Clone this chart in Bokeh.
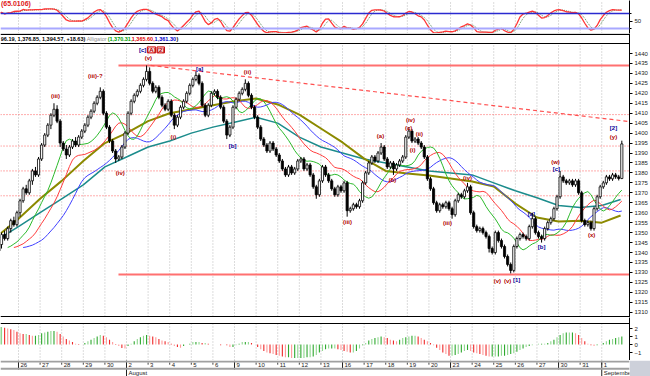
import numpy as np
import pandas as pd
from bokeh.plotting import figure
from bokeh.layouts import column
from bokeh.models import Range1d, FixedTicker, Span, Label, ColumnDataSource
from bokeh.core.properties import value
from bokeh.embed import file_html
from bokeh.resources import INLINE

FONT = "Liberation Sans"

# ---------------- data ----------------
# hourly bars, 7 per trading day, first row = Jul 23 (partly visible)
first_open = 1341
closes = [
    1344, 1349, 1347, 1352, 1356, 1354, 1360,   # Jul 23
    1366, 1372, 1370, 1376, 1381, 1379, 1387,   # Jul 26
    1394, 1399, 1404, 1409, 1412, 1406, 1395,   # Jul 27
    1392, 1389, 1393, 1396, 1394, 1398, 1401,   # Jul 28
    1404, 1408, 1411, 1415, 1418, 1421, 1410,   # Jul 29
    1403, 1396, 1391, 1387, 1388, 1393, 1400,   # Jul 30
    1410, 1416, 1419, 1421, 1424, 1427, 1431,   # Aug 2
    1425, 1421, 1423, 1418, 1414, 1412, 1416,   # Aug 3
    1409, 1404, 1408, 1413, 1416, 1420, 1424,   # Aug 4
    1427, 1429, 1425, 1414, 1409, 1414, 1420,   # Aug 5
    1421, 1418, 1413, 1406, 1399, 1403, 1413,   # Aug 6
    1417, 1420, 1422, 1425, 1419, 1413, 1408,   # Aug 9
    1403, 1397, 1394, 1391, 1395, 1392, 1389,   # Aug 10
    1386, 1382, 1379, 1383, 1380, 1382, 1386,   # Aug 11
    1387, 1382, 1384, 1379, 1373, 1369, 1376,   # Aug 12
    1383, 1379, 1376, 1372, 1369, 1373, 1371,   # Aug 13
    1375, 1361, 1362, 1364, 1363, 1366, 1375,   # Aug 16
    1380, 1385, 1388, 1386, 1390, 1393, 1387,   # Aug 17
    1383, 1385, 1382, 1384, 1386, 1388, 1398,   # Aug 18
    1401, 1396, 1397, 1395, 1393, 1388, 1377,   # Aug 19
    1372, 1365, 1361, 1364, 1363, 1365, 1362,   # Aug 20
    1359, 1366, 1369, 1368, 1371, 1373, 1360,   # Aug 23
    1353, 1351, 1352, 1350, 1348, 1342, 1340,   # Aug 24
    1350, 1346, 1343, 1338, 1334, 1331, 1343,   # Aug 25
    1347, 1349, 1348, 1347, 1353, 1357, 1350,   # Aug 26
    1348, 1347, 1352, 1355, 1357, 1362, 1368,   # Aug 27
    1378, 1376, 1375, 1376, 1374, 1376, 1370,   # Aug 30
    1356, 1354, 1355, 1352, 1362, 1368, 1373,   # Aug 31
    1375, 1378, 1377, 1379, 1378, 1377.2, 1394.57,  # Sep 1
]
upper_wick = [
    1, 1, 2, 1, 1, 2, 1,
    1, 1, 2, 1, 1, 2, 1,
    1, 1, 1, 1, 3, 2, 1,
    1, 2, 1, 1, 2, 1, 1,
    1, 1, 1, 1, 1, 2, 1,
    1, 1, 1, 1, 1, 1, 1,
    1, 1, 1, 1, 1, 1, 3,
    2, 1, 1, 1, 1, 1, 1,
    1, 1, 1, 1, 1, 1, 1,
    1, 2, 1, 1, 1, 1, 1,
    1, 1, 1, 1, 1, 1, 1,
    1, 1, 1, 2, 1, 1, 1,
    1, 1, 1, 1, 1, 1, 1,
    1, 1, 1, 1, 1, 1, 1,
    1, 1, 1, 1, 1, 1, 1,
    1, 1, 1, 1, 1, 1, 1,
    1, 1, 1, 1, 1, 1, 1,
    1, 1, 1, 1, 1, 2, 1,
    1, 1, 1, 1, 1, 1, 1,
    2, 1, 1, 1, 1, 1, 1,
    1, 1, 1, 1, 1, 1, 1,
    1, 1, 1, 1, 1, 2, 1,
    1, 1, 1, 1, 1, 1, 1,
    1, 1, 1, 1, 1, 1, 1,
    1, 1, 1, 1, 1, 3, 1,
    1, 1, 1, 1, 1, 1, 1,
    3, 1, 1, 1, 1, 1, 1,
    1, 1, 1, 1, 1, 1, 1,
    1, 1, 1, 1, 1, 1, 1.62,
]
lower_wick = [
    1, 2, 1, 1, 2, 1, 1,
    2, 1, 1, 1, 2, 1, 1,
    1, 1, 1, 2, 1, 1, 2,
    1, 2, 1, 1, 1, 1, 1,
    1, 1, 1, 1, 1, 1, 1,
    1, 1, 1, 2, 1, 1, 1,
    1, 1, 1, 1, 1, 1, 1,
    1, 1, 1, 1, 1, 1, 1,
    1, 2, 1, 1, 1, 1, 1,
    1, 1, 1, 1, 1, 1, 1,
    1, 1, 1, 1, 2, 1, 1,
    1, 1, 1, 1, 1, 1, 1,
    1, 1, 1, 1, 1, 1, 1,
    1, 1, 1, 1, 1, 1, 1,
    1, 1, 1, 1, 1, 2, 1,
    1, 1, 1, 1, 1, 1, 1,
    1, 3, 1, 1, 1, 1, 1,
    1, 1, 1, 1, 1, 1, 1,
    1, 1, 3, 1, 1, 1, 1,
    1, 1, 1, 1, 1, 1, 1,
    1, 1, 1, 1, 1, 1, 1,
    2, 1, 1, 1, 1, 1, 1,
    1, 1, 1, 1, 1, 2, 1,
    1, 1, 1, 1, 1, 1.5, 1,
    1, 1, 1, 1, 1, 1, 1,
    1, 2, 1, 1, 1, 1, 1,
    1, 1, 1, 1, 1, 1, 1,
    1, 1, 1, 1, 1, 1, 1,
    1, 1, 1, 1, 1, 1, 0.35,
]
histogram = [
    2.2, 2.2, 2.1, 2.0, 1.9, 1.8, 1.6,
    1.4, 1.3, 1.3, 1.2, 1.1, 1.1, 1.2,
    1.4, 1.5, 1.6, 1.7, 1.7, 1.6, 1.3,
    1.0, 0.7, 0.5, 0.3, 0.1, 0.05, 0.0,
    0.2, 0.4, 0.6, 0.8, 1.0, 1.2, 1.1,
    0.9, 0.6, 0.3, 0.05, -0.2, -0.45, -0.5,
    -0.2, 0.1, 0.4, 0.7, 0.9, 1.1, 1.2,
    1.1, 1.0, 0.9, 0.7, 0.5, 0.4, 0.3,
    0.1, -0.2, -0.3, -0.4, -0.2, 0.0, 0.1,
    0.3, 0.3, 0.3, 0.2, 0.2, 0.1, 0.0,
    0.0, 0.0, -0.1, 0.0, -0.1, -0.3, -0.3,
    -0.1, 0.1, 0.3, 0.3, 0.3, 0.2, 0.0,
    -0.3, -0.6, -0.8, -1.0, -1.1, -1.2, -1.3,
    -1.4, -1.5, -1.6, -1.6, -1.7, -1.7, -1.7,
    -1.7, -1.7, -1.6, -1.6, -1.5, -1.3, -1.0,
    -0.8, -0.6, -0.5, -0.5, -0.5, -0.6, -0.7,
    -0.8, -0.9, -1.0, -1.0, -0.8, -0.5, -0.1,
    0.2, 0.5, 0.7, 0.8, 0.9, 1.0, 0.9,
    0.8, 0.6, 0.5, 0.4, 0.6, 0.8, 0.9,
    1.0, 1.1, 1.1, 1.0, 0.8, 0.6, 0.4,
    0.2, -0.1, -0.4, -0.7, -1.0, -1.2, -1.4,
    -1.4, -1.3, -1.2, -1.0, -0.8, -0.7, -0.8,
    -1.0, -1.1, -1.2, -1.3, -1.4, -1.5, -1.5,
    -1.5, -1.5, -1.4, -1.4, -1.3, -1.2, -1.1,
    -0.9, -0.7, -0.5, -0.3, -0.2, -0.1, 0.0,
    0.1, 0.1, 0.1, 0.2, 0.4, 0.6, 0.9,
    1.2, 1.4, 1.5, 1.5, 1.5, 1.4, 1.2,
    0.8, 0.4, 0.1, -0.1, -0.2, -0.1, 0.0,
    0.2, 0.4, 0.6, 0.7, 0.8, 0.9, 1.0,
]

# long moving averages read at each day boundary (bar-index position)
ma_x = [-6.3, -0.5, 6.5, 13.5, 20.5, 27.5, 34.5, 41.5, 48.5, 55.5, 62.5, 69.5, 76.5,
        83.5, 90.5, 97.5, 104.5, 111.5, 118.5, 125.5, 132.5, 139.5, 146.5, 153.5,
        160.5, 167.5, 174.5, 181.5, 188.5, 194.6]
teal_ma = [1347.5, 1353, 1360, 1367, 1374, 1383, 1388, 1393, 1396, 1400, 1403, 1405.5,
           1408, 1405, 1398, 1393, 1390, 1387, 1385, 1383, 1381, 1380, 1379, 1375,
           1371, 1367.5, 1363.6, 1362.6, 1363.6, 1366.6]
olive_ma = [1349.5, 1357, 1367, 1376, 1386, 1395, 1400, 1406, 1410, 1412, 1414, 1416,
            1417.4, 1414.4, 1409.3, 1402.3, 1395.3, 1387.2, 1381, 1379.7, 1378.7, 1377.2,
            1375.7, 1373.2, 1364.6, 1357.6, 1355.6, 1356, 1355, 1358.6]

# support / resistance levels
solid_levels = [1434, 1329]
solid_start = 31.9
dotted_levels = [1409.3, 1393.5, 1381, 1368.5]
trend_x = [42.3, 197.5]
trend_y = [1434, 1405.8]

# wave labels
red_text = ["(iii)", "(iii)-?", "(v)", "(iv)", "(i)", "(ii)", "(iii)", "(a)", "(b)", "(iv)",
            "(c)", "(ii)", "(i)", "(iii)", "(iv)", "(v)", "(v)", "(w)", "(x)", "(y)"]
red_x = [11.5, 24.4, 41.6, 32.5, 49.7, 73.7, 106.1, 116.8, 120.7, 126.5,
         125.9, 129.4, 127.2, 138.5, 145.0, 154.7, 158.0, 173.5, 185.2, 192.3]
red_y = [1418.4, 1428.9, 1437.5, 1380.2, 1397.8, 1430.5, 1355.1, 1398.3, 1376.2, 1406.8,
         1402.8, 1399.3, 1391.3, 1354.6, 1377.2, 1325.9, 1325.9, 1385.7, 1349.0, 1397.8]
blue_text = ["[c]", "[a]", "[b]", "[1]", "[a]", "[b]", "[c]", "[2]"]
blue_x = [39.7, 58.2, 68.9, 160.9, 165.7, 169.0, 173.8, 192.3]
blue_y = [1441.8, 1432.0, 1393.3, 1326.4, 1359.6, 1343.0, 1382.2, 1402.8]
boxed_text = ["(A)", "(2)"]
boxed_x = [42.6, 45.6]
boxed_y = [1441.8, 1441.8]

# date axis
day_labels = ["26", "27", "28", "29", "30", "2", "3", "4", "5", "6", "9", "10", "11", "12",
              "13", "16", "17", "18", "19", "20", "23", "24", "25", "26", "27", "30", "31", "1"]
week_start = [0, 5, 10, 15, 20, 25]
month_start = {5: "August", 27: "September"}

osc_title = "(65.0106)"
header_ohlc = "96.19, 1,376.85, 1,394.57, +18.63)"
header_name = "Alligator"
header_vals = ["(1,370.31,", "1,365.60,", "1,361.30", ")"]
icons = "\u22a1\u22a0"

# ---------------- derived ----------------
BPD = 7
n = len(closes)
xs = np.arange(-BPD, n - BPD)
opens = [first_open] + closes[:-1]
highs = [max(o, c) + u for o, c, u in zip(opens, closes, upper_wick)]
lows = [min(o, c) - d for o, c, d in zip(opens, closes, lower_wick)]
up = [c >= o for o, c in zip(opens, closes)]

H = pd.Series(highs)
L = pd.Series(lows)
C = pd.Series(closes, dtype=float)
med = (H + L) / 2
jaw = med.ewm(alpha=1 / 13, adjust=False).mean().shift(8)
teeth = med.ewm(alpha=1 / 8, adjust=False).mean().shift(5)
lips = med.ewm(alpha=1 / 5, adjust=False).mean().shift(3)

hh = H.rolling(14, min_periods=1).max()
ll = L.rolling(14, min_periods=1).min()
k_raw = (C - ll) / (hh - ll) * 100
k_slow = k_raw.rolling(3, min_periods=1).mean()
d_sig = k_slow.rolling(3, min_periods=1).mean()

bounds = [BPD * d - 0.5 for d in range(len(day_labels))]

xr = Range1d(-6.33, 197.49)
ICON_X = 200.4


def base(h, yr, yaxis=True, right=21):
    p = figure(frame_width=629, frame_height=h, x_range=xr, y_range=yr,
               toolbar_location=None, output_backend="svg",
               min_border_left=0, min_border_right=right, min_border_top=0, min_border_bottom=0,
               x_axis_location=None, y_axis_location="right" if yaxis else None)
    p.outline_line_color = None
    p.grid.visible = False
    p.background_fill_color = "white"
    p.border_fill_color = "white"
    if yaxis:
        ax = p.yaxis[0]
        ax.major_label_text_font = FONT
        ax.major_label_text_font_size = "6px"
        ax.major_label_text_color = "#222222"
        ax.major_tick_out = 3
        ax.major_tick_in = 0
        ax.minor_tick_out = 2
        ax.minor_tick_in = 0
        ax.major_label_standoff = 2
        ax.axis_line_color = "black"
        ax.axis_line_width = 1
    return p


def vgrid(p, y0, y1):
    p.segment(x0=bounds, x1=bounds, y0=y0, y1=y1, line_color="#b8b8b8",
              line_dash="1 2", line_width=1)


def icon(p, y):
    p.add_layout(Label(x=ICON_X, y=y, text=icons, text_font="DejaVu Sans", text_font_size="7px",
                       text_color="#333333", text_baseline="middle", text_align="left"))


# ---- oscillator panel ----
pA = base(33, Range1d(0, 132))
pA.yaxis[0].ticker = FixedTicker(ticks=[50], minor_ticks=[20, 80])
vgrid(pA, 0, 132)
pA.add_layout(Span(location=80, dimension="width", line_color="#2a2ad0", line_width=1.5))
pA.add_layout(Span(location=20, dimension="width", line_color="#a8a8ff", line_width=2))
pA.line(xs, d_sig, line_color="#5f8f5f", line_width=1, line_dash="1 1")
pA.line(xs, k_slow, line_color="#ff3535", line_width=1.3)
pA.add_layout(Label(x=-6.2, y=121, text=osc_title, text_font=FONT, text_font_size="7px",
                    text_font_style="bold", text_color="#e02020", text_baseline="middle"))
icon(pA, 112)

# ---- main price panel ----
pB = base(284, Range1d(1307.34, 1450.05))
pB.yaxis[0].ticker = FixedTicker(ticks=list(range(1310, 1445, 5)))
vgrid(pB, 1307.84, 1445.03)
pB.add_layout(Span(location=1449.6, dimension="width", line_color="black", line_width=1.2))
pB.add_layout(Span(location=1445.03, dimension="width", line_color="black", line_width=1.2))
pB.add_layout(Span(location=1307.84, dimension="width", line_color="black", line_width=1.2))

right_end = xr.end
for lv in dotted_levels:
    pB.segment(x0=[xr.start], x1=[right_end], y0=[lv], y1=[lv], line_color="#ff5a5a",
               line_dash="1 2", line_width=1)
pB.segment(x0=[solid_start] * 2, x1=[right_end] * 2, y0=solid_levels, y1=solid_levels,
           line_color="#ff7070", line_width=2)
pB.line(trend_x, trend_y, line_color="#ff5050", line_dash="4 3", line_width=1.2)

pB.line(ma_x, teal_ma, line_color="#1c8c8c", line_width=1.5)
pB.line(ma_x, olive_ma, line_color="#8c8a00", line_width=2)
pB.line(xs, jaw, line_color="#4040ff", line_width=1)
pB.line(xs, teeth, line_color="#ff3c3c", line_width=1)
pB.line(xs, lips, line_color="#2cba2c", line_width=1)

csrc = ColumnDataSource(dict(
    x=xs, top=[max(o, c) for o, c in zip(opens, closes)],
    bottom=[min(o, c) for o, c in zip(opens, closes)],
    high=highs, low=lows,
    fill=["white" if u_ else "black" for u_ in up]))
pB.segment(x0="x", x1="x", y0="low", y1="high", source=csrc, line_color="black", line_width=1)
pB.vbar(x="x", top="top", bottom="bottom", width=0.7, source=csrc, fill_color="fill",
        line_color="black", line_width=0.8)

pB.text(x=red_x, y=red_y, text=red_text, text_font=value(FONT), text_font_size=value("6px"),
        text_font_style="bold", text_color="#b00000", text_align="center", text_baseline="middle")
pB.text(x=blue_x, y=blue_y, text=blue_text, text_font=value(FONT), text_font_size=value("6px"),
        text_font_style="bold", text_color="#000099", text_align="center", text_baseline="middle")
for t, bx_, by_ in zip(boxed_text, boxed_x, boxed_y):
    pB.add_layout(Label(x=bx_, y=by_, text=t, text_font=FONT, text_font_size="6px",
                        text_font_style="bold", text_color="#b00000", text_align="center",
                        text_baseline="middle", border_line_color="#d00000",
                        background_fill_color="#ffe0e0"))

hy = 1447.4
pB.add_layout(Label(x=-6.25, y=hy, text=header_ohlc, text_font=FONT, text_font_size="5.5px",
                    text_font_style="bold", text_color="black", text_baseline="middle"))
pB.add_layout(Label(x=21.6, y=hy, text=header_name, text_font=FONT, text_font_size="5.5px",
                    text_color="#909090", text_baseline="middle"))
for t, hx, col in zip(header_vals, [28.4, 36.2, 43.6, 50.7],
                      ["#00a000", "#e00000", "#0000cc", "black"]):
    pB.add_layout(Label(x=hx, y=hy, text=t, text_font=FONT, text_font_size="5.5px",
                        text_font_style="bold", text_color=col, text_baseline="middle"))
icon(pB, hy)

# ---- histogram panel ----
pC = base(43, Range1d(-2.0, 3.375))
pC.yaxis[0].ticker = FixedTicker(ticks=[-2, -1, 0, 1, 2])
pC.yaxis[0].major_label_overrides = {-2: ""}
vgrid(pC, -2.0, 2.625)
pC.add_layout(Span(location=2.625, dimension="width", line_color="black", line_width=1.2))
hcol = []
for i, v in enumerate(histogram):
    rising = i == 0 or v >= histogram[i - 1]
    if rising:
        hcol.append("#2fa82f" if i % 2 == 0 else "#8fd88f")
    else:
        hcol.append("#ee2a2a" if i % 2 == 0 else "#ff9a9a")
pC.vbar(x=xs, top=histogram, bottom=0, width=0.36, fill_color=hcol, line_color=None)
icon(pC, 3.05)

# ---- date strip ----
pD = base(16, Range1d(0, 16), yaxis=False)
pD.border_fill_color = "#cdd0da"
pD.add_layout(Span(location=15, dimension="width", line_color="#a0a0a0", line_width=2))
pD.add_layout(Span(location=7.7, dimension="width", line_color="#a0a0a0", line_width=2))
pD.segment(x0=bounds, x1=bounds, y0=14, y1=11.8, line_color="#444444", line_width=1)
wk = [bounds[i] for i in week_start]
pD.segment(x0=wk, x1=wk, y0=16, y1=7, line_color="#222222", line_width=1)
ms = [bounds[i] for i in month_start]
pD.segment(x0=ms, x1=ms, y0=16, y1=0, line_color="#222222", line_width=1)
pD.text(x=bounds, y=[11.2] * len(bounds), text=day_labels, text_font=value(FONT),
        text_font_size=value("6px"), text_color="#222222", text_align="left",
        text_baseline="middle", x_offset=2)
for mx, mt in zip(ms, month_start.values()):
    pD.add_layout(Label(x=mx, y=3.6, text=mt, text_font=FONT, text_font_size="6px",
                        text_color="#222222", text_align="left", text_baseline="middle",
                        x_offset=2, background_fill_color="white"))

layout = column(pA, pB, pC, pD, spacing=0)
open("out.html", "w").write(file_html(layout, INLINE))
